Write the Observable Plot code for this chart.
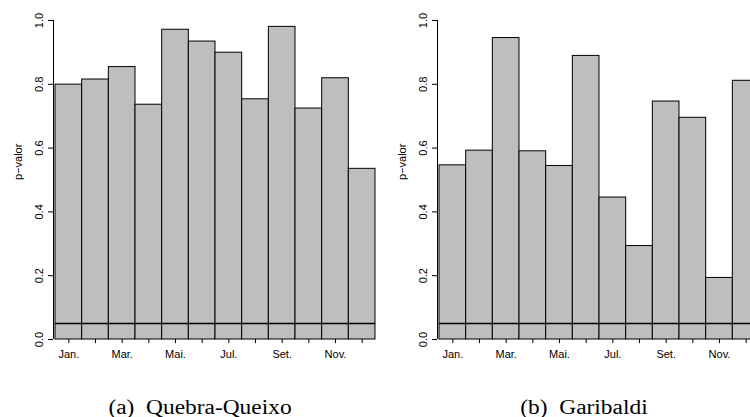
<!DOCTYPE html>
<html>
<head>
<meta charset="utf-8">
<script src="https://cdn.jsdelivr.net/npm/d3@7"></script>
<script src="https://cdn.jsdelivr.net/npm/@observablehq/plot@0.6"></script>
<style>
  html, body { margin: 0; padding: 0; background: white; }
  #wrap { position: relative; width: 750px; height: 417px; overflow: hidden; background: white; }
  .panel { position: absolute; top: 0; width: 376px; }
  .panel svg { max-width: none !important; }
  .cap { position: absolute; font-family: "Liberation Serif", "Times New Roman", serif; font-size: 20px; line-height: 20px; color: black; white-space: pre; text-align: center; width: 300px; transform: scaleX(1.17); transform-origin: 50% 50%; }
</style>
</head>
<body>
<div id="wrap"></div>
<script>
const months = ["Jan.","Fev.","Mar.","Abr.","Mai.","Jun.","Jul.","Ago.","Set.","Out.","Nov.","Dez."];
const quebraQueixo = [0.799, 0.815, 0.854, 0.736, 0.971, 0.934, 0.899, 0.753, 0.980, 0.724, 0.819, 0.535];
const garibaldi   = [0.546, 0.592, 0.945, 0.590, 0.544, 0.889, 0.445, 0.293, 0.746, 0.695, 0.193, 0.811];
const alpha = 0.05;
const yTicks = [0, 0.2, 0.4, 0.6, 0.8, 1.0];
const yLabel = "p\u2212valor";
const captions = ["(a)  Quebra-Queixo", "(b)  Garibaldi"];

function panel(values) {
  const data = values.map((p, k) => ({i: k + 1, p}));
  return Plot.plot({
    width: 376,
    height: 365,
    marginLeft: 55,
    marginRight: 1,
    marginTop: 20,
    marginBottom: 26,
    style: {fontFamily: "'Liberation Sans', Arial, sans-serif", fontSize: "11px", background: "white", overflow: "hidden", maxWidth: "none"},
    x: {type: "linear", domain: [0.5, 12.5]},
    y: {domain: [0, 1]},
    marks: [
      Plot.rect(data, {x1: d => d.i - 0.5, x2: d => d.i + 0.5, y1: 0, y2: "p", fill: "#bebebe", stroke: "black", strokeWidth: 1}),
      Plot.ruleY([alpha], {stroke: "black", strokeWidth: 1.6}),
      Plot.ruleX([0.5], {y1: 0, y2: 1, dx: -2, stroke: "black", strokeWidth: 1}),
      Plot.axisY({ticks: yTicks, tickSize: 5, dx: -2, tickRotate: -90, tickPadding: 6, tickFormat: d3.format(".1f"), label: null, fontSize: 11}),
      Plot.axisX({ticks: d3.range(1, 13), tickSize: 4, tickPadding: 7, tickFormat: i => (i % 2 === 1 ? months[i - 1] : ""), label: null, fontSize: 11}),
      Plot.text([yLabel], {text: d => d, frameAnchor: "left", rotate: -90, dx: -37, fontSize: 11})
    ]
  });
}

const wrap = document.getElementById("wrap");
[[quebraQueixo, 0], [garibaldi, 384]].forEach(([vals, left], k) => {
  const d = document.createElement("div");
  d.className = "panel";
  d.style.left = left + "px";
  d.appendChild(panel(vals));
  wrap.appendChild(d);
  const c = document.createElement("div");
  c.className = "cap";
  c.textContent = captions[k];
  c.style.left = (left + 200 - 150) + "px";
  c.style.top = "397px";
  wrap.appendChild(c);
});
</script>
</body>
</html>
